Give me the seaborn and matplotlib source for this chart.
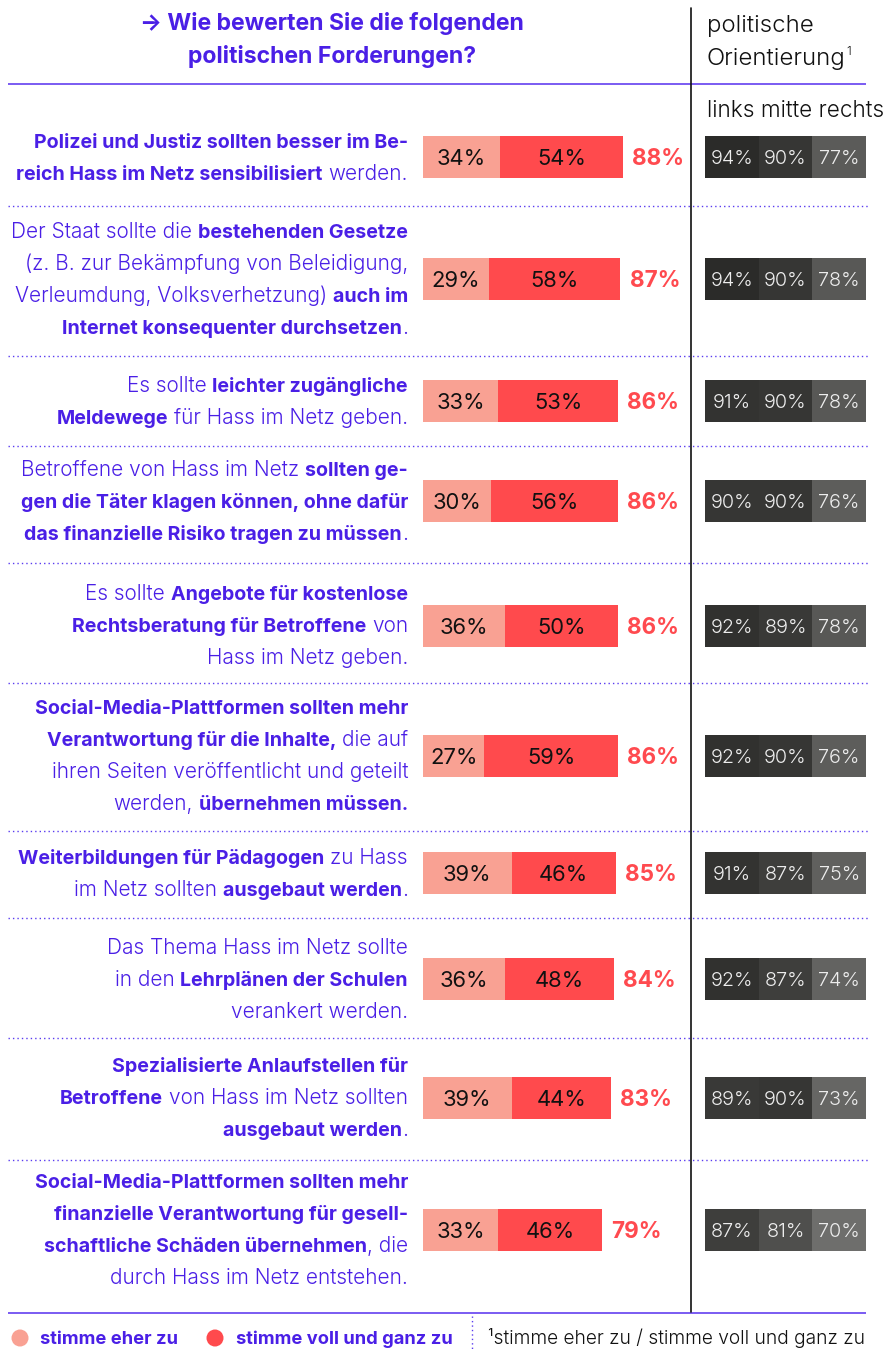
import numpy as np
import pandas as pd
import matplotlib
matplotlib.use("Agg")
import matplotlib.pyplot as plt
import seaborn as sns
from matplotlib.colors import LinearSegmentedColormap
from matplotlib.patches import Circle

# ---------------------------------------------------------------- data
# Each statement is a list of lines; each line is a list of (text, bold) runs.
statements = [
    [[("Polizei und Justiz sollten besser im Be-", True)],
     [("reich Hass im Netz sensibilisiert", True), (" werden.", False)]],
    [[("Der Staat sollte die ", False), ("bestehenden Gesetze", True)],
     [("(z. B. zur Bekämpfung von Beleidigung,", False)],
     [("Verleumdung, Volksverhetzung) ", False), ("auch im", True)],
     [("Internet konsequenter durchsetzen", True), (".", False)]],
    [[("Es sollte ", False), ("leichter zugängliche", True)],
     [("Meldewege", True), (" für Hass im Netz geben.", False)]],
    [[("Betroffene von Hass im Netz ", False), ("sollten ge-", True)],
     [("gen die Täter klagen können, ohne dafür", True)],
     [("das finanzielle Risiko tragen zu müssen", True), (".", False)]],
    [[("Es sollte ", False), ("Angebote für kostenlose", True)],
     [("Rechtsberatung für Betroffene", True), (" von", False)],
     [("Hass im Netz geben.", False)]],
    [[("Social-Media-Plattformen sollten mehr", True)],
     [("Verantwortung für die Inhalte,", True), (" die auf", False)],
     [("ihren Seiten veröffentlicht und geteilt", False)],
     [("werden, ", False), ("übernehmen müssen.", True)]],
    [[("Weiterbildungen für Pädagogen", True), (" zu Hass", False)],
     [("im Netz sollten ", False), ("ausgebaut werden", True), (".", False)]],
    [[("Das Thema Hass im Netz sollte", False)],
     [("in den ", False), ("Lehrplänen der Schulen", True)],
     [("verankert werden.", False)]],
    [[("Spezialisierte Anlaufstellen für", True)],
     [("Betroffene", True), (" von Hass im Netz sollten", False)],
     [("ausgebaut werden", True), (".", False)]],
    [[("Social-Media-Plattformen sollten mehr", True)],
     [("finanzielle Verantwortung für gesell-", True)],
     [("schaftliche Schäden übernehmen", True), (", die", False)],
     [("durch Hass im Netz entstehen.", False)]],
]

eher_zu = [34, 29, 33, 30, 36, 27, 39, 36, 39, 33]
voll_zu = [54, 58, 53, 56, 50, 59, 46, 48, 44, 46]

links = [94, 94, 91, 90, 92, 92, 91, 92, 89, 87]
mitte = [90, 90, 90, 90, 89, 90, 87, 87, 90, 81]
rechts = [77, 78, 78, 76, 78, 76, 75, 74, 73, 70]
groups = ["links", "mitte", "rechts"]

title_lines = ["→ Wie bewerten Sie die folgenden", "politischen Forderungen?"]
legend_labels = ["stimme eher zu", "stimme voll und ganz zu"]
footnote = "¹stimme eher zu / stimme voll und ganz zu"

# ---------------------------------------------------------------- style
PURPLE = "#4A1FE6"
RULE = "#7A5BF2"
DOTS = "#5a3cf0"
LIGHT = "#F9A193"
DARK = "#FF4A4D"
TOTAL = "#FF4A4F"
CELL_TXT = "#EDEDED"
INK = "#111111"

sns.set_theme(style="white")
plt.rcParams["font.family"] = ["Inter", "DejaVu Sans"]

W, H = 890, 1349
fig = plt.figure(figsize=(W / 100, H / 100), dpi=100)
fig.patch.set_facecolor("white")
ax = fig.add_axes([0, 0, 1, 1])
ax.set_xlim(0, W)
ax.set_ylim(H, 0)
ax.set_axis_off()
renderer = fig.canvas.get_renderer()


def pt(px):
    return px * 72 / 100


def axes_px(x0, y0, w, h):
    return fig.add_axes([x0 / W, 1 - (y0 + h) / H, w / W, h / H])


SIZE = {True: 19.6, False: 20.8}
WEIGHT = {True: "bold", False: 300}
LINE_GAP = 32
TEXT_RIGHT = 408


def text_width(s, bold):
    t = ax.text(0, 0, s, fontsize=pt(SIZE[bold]), fontweight=WEIGHT[bold])
    w = t.get_window_extent(renderer).width
    t.remove()
    return w


space_w = {b: text_width("n n", b) - text_width("nn", b) for b in (True, False)}


def rich_line(x_right, y_mid, runs):
    """Right-aligned line built from bold / regular runs."""
    x = x_right
    base = y_mid + 6.5
    for s, bold in reversed(runs):
        core = s.rstrip(" ")
        x -= (len(s) - len(core)) * space_w[bold]
        word = core.lstrip(" ")
        if word:
            t = ax.text(x, base, word, ha="right", va="baseline",
                        fontsize=pt(SIZE[bold]), fontweight=WEIGHT[bold], color=PURPLE)
            x -= t.get_window_extent(renderer).width
        x -= (len(core) - len(word)) * space_w[bold]


# ---------------------------------------------------------------- header
for i, line in enumerate(title_lines):
    ax.text(332, 22 + i * 33 + 8, line, ha="center", va="baseline",
            fontsize=pt(23), fontweight="bold", color=PURPLE)
ax.text(707, 24 + 8, "politische", ha="left", va="baseline",
        fontsize=pt(24), fontweight=300, color=INK)
t = ax.text(707, 57 + 8, "Orientierung", ha="left", va="baseline",
            fontsize=pt(24), fontweight=300, color=INK)
ax.text(707 + t.get_window_extent(renderer).width + 1, 57 - 2, "1", ha="left",
        va="baseline", fontsize=pt(12), fontweight=300, color=INK)
ax.text(707, 110 + 7, "links mitte rechts", ha="left", va="baseline",
        fontsize=pt(22.6), fontweight=300, color=INK)

ax.plot([8, 866], [84, 84], color=RULE, lw=1.4, solid_capstyle="butt")
ax.plot([8, 866], [1313, 1313], color=RULE, lw=1.4, solid_capstyle="butt")
ax.plot([691, 691], [8, 1312], color=INK, lw=1.2)

# ---------------------------------------------------------------- rows
row_y = [157, 279, 401, 501, 626, 756, 873, 979, 1098, 1230]
sep_y = [206, 356, 446, 563, 683, 831, 918, 1038, 1160]
for y in sep_y:
    ax.plot([8, 868], [y, y], color=DOTS, lw=1.0, linestyle=(0, (1, 2.2)))

BAR_X, BAR_W, BAR_H = 423, 227, 42
CELL_X, CELL_W = 705, 161
cmap = LinearSegmentedColormap.from_list("orient", ["#6E6E6C", "#2B2B29"])

for i, yc in enumerate(row_y):
    lines = statements[i]
    n = len(lines)
    for k, runs in enumerate(lines):
        rich_line(TEXT_RIGHT, yc + (k - (n - 1) / 2) * LINE_GAP, runs)

    e, v = eher_zu[i], voll_zu[i]
    total = e + v
    bax = axes_px(BAR_X, yc - BAR_H / 2, BAR_W, BAR_H)
    sns.barplot(x=[total], y=[0], orient="h", color=DARK, saturation=1,
                width=1, linewidth=0, ax=bax)
    sns.barplot(x=[e], y=[0], orient="h", color=LIGHT, saturation=1,
                width=1, linewidth=0, ax=bax)
    bax.set_xlim(0, 100)
    bax.set_ylim(0.5, -0.5)
    bax.set_axis_off()

    num_px = 22
    off = -0.36 * num_px * 0.72
    bax.annotate(f"{e}%", xy=(e / 2, 0), xytext=(0, off), textcoords="offset points",
                 ha="center", va="baseline", fontsize=pt(num_px), fontweight="normal", color=INK)
    bax.annotate(f"{v}%", xy=(e + v / 2, 0), xytext=(0, off), textcoords="offset points",
                 ha="center", va="baseline", fontsize=pt(num_px), fontweight="normal", color=INK)
    tot_px = 22.5
    bax.annotate(f"{total}%", xy=(total, 0), xytext=(6.5, -0.36 * tot_px * 0.72),
                 textcoords="offset points", ha="left", va="baseline",
                 fontsize=pt(tot_px), fontweight="bold", color=TOTAL,
                 annotation_clip=False)

    vals = pd.DataFrame([[links[i], mitte[i], rechts[i]]], columns=groups)
    labels = np.array([[f"{x}%" for x in vals.iloc[0]]])
    hax = axes_px(CELL_X, yc - BAR_H / 2, CELL_W, BAR_H)
    sns.heatmap(vals, ax=hax, cmap=cmap, vmin=70, vmax=94, annot=labels, fmt="",
                cbar=False, xticklabels=False, yticklabels=False, linewidths=0,
                annot_kws=dict(color=CELL_TXT, fontsize=pt(19.8), fontweight=300,
                               va="center_baseline"))
    hax.set_axis_off()

# ---------------------------------------------------------------- legend / footnote
ax.add_patch(Circle((20, 1338), 8.5, color=LIGHT, lw=0))
ax.add_patch(Circle((215, 1338), 8.5, color=DARK, lw=0))
ax.text(40, 1338 + 6, legend_labels[0], ha="left", va="baseline",
        fontsize=pt(18.3), fontweight="bold", color=PURPLE)
ax.text(236, 1338 + 6, legend_labels[1], ha="left", va="baseline",
        fontsize=pt(18.3), fontweight="bold", color=PURPLE)
ax.plot([472, 472], [1316, 1349], color=DOTS, lw=1.0, linestyle=(0, (1, 2.2)))
ax.text(488, 1338 + 6, footnote, ha="left", va="baseline",
        fontsize=pt(19.2), fontweight=300, color=INK)

fig.savefig("out.png", dpi=100, facecolor="white")
